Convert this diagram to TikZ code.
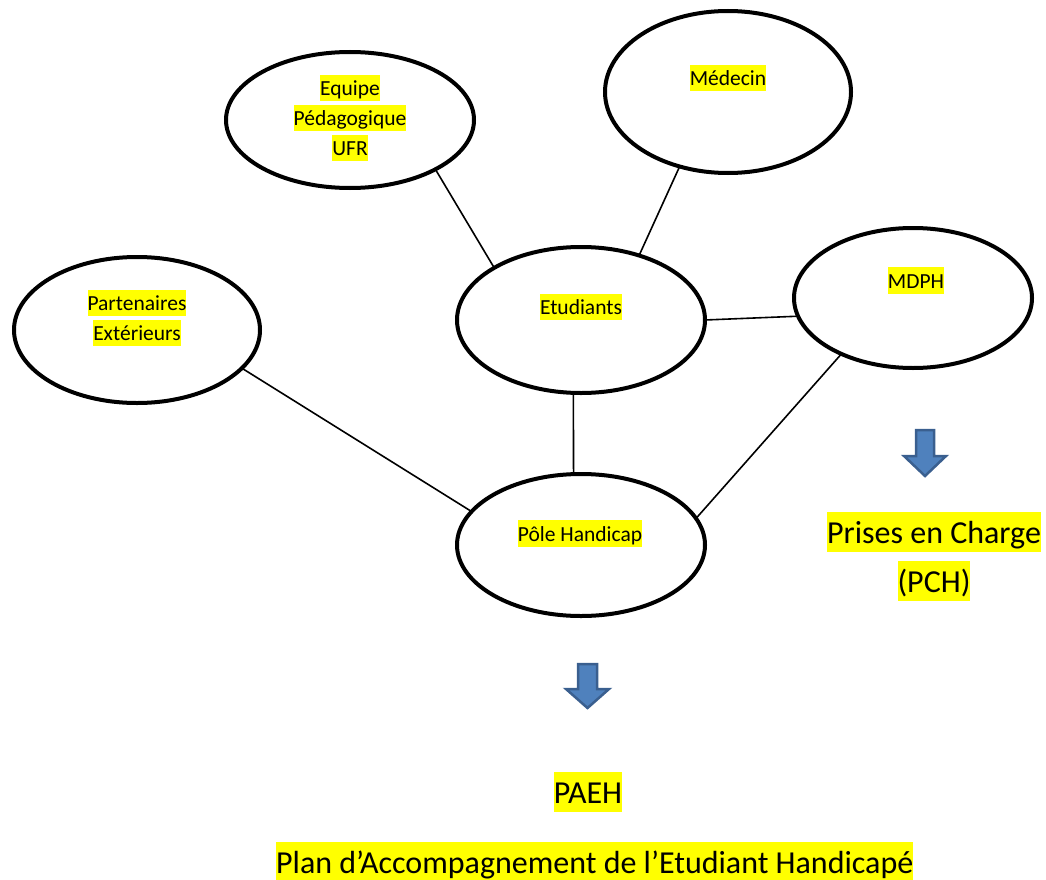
\documentclass[tikz,border=0pt]{standalone}
\usepackage{fontspec}
\setmainfont{Carlito}
\usetikzlibrary{shapes.geometric}
\definecolor{hly}{HTML}{FFFF00}
\definecolor{arrfill}{HTML}{4F81BD}
\definecolor{arredge}{HTML}{3A5F8F}
\newcommand\hlt[1]{{\setlength{\fboxsep}{0pt}\colorbox{hly}{\rule[-0.27em]{0pt}{1.25em}#1}}}
\begin{document}
\begin{tikzpicture}[x=1pt,y=-1pt,
  bubble/.style={draw, ellipse, line width=4pt, inner sep=0pt, outer sep=0pt},
  link/.style={line width=1.6pt},
  lbl/.style={inner sep=0pt, align=center, font=\fontsize{21.5}{30}\selectfont},
  biglbl/.style={inner sep=0pt, align=center, font=\fontsize{32}{49}\selectfont},
  blockarrow/.style={fill=arrfill, draw=arredge, line width=2.5pt, line join=miter}]
\useasboundingbox (0,0) rectangle (1046,880);

% ellipses
\node[bubble, minimum width=248pt, minimum height=136pt] (equipe) at (350,120) {};
\node[bubble, minimum width=246pt, minimum height=162pt] (medecin) at (728,92) {};
\node[bubble, minimum width=246pt, minimum height=146pt] (part) at (137,330) {};
\node[bubble, minimum width=248pt, minimum height=146pt] (etud) at (581,320) {};
\node[bubble, minimum width=238pt, minimum height=140pt] (mdph) at (913,298) {};
\node[bubble, minimum width=248pt, minimum height=142pt] (pole) at (581,545) {};

% connectors
\draw[link] (equipe.-30.5) -- (etud.149.8);
\draw[link] (medecin.-123.2) -- (etud.48.6);
\draw[link] (etud.0) -- (mdph.-171.1);
\draw[link] (part.-20.8) -- (pole.163);
\draw[link] (etud.-96.7) -- (pole.96.9);
\draw[link] (mdph.-142.2) -- (pole.13);

% labels
\node[lbl] (tEquipe) at (350,118) {\hlt{Equipe}\\\hlt{Pédagogique}\\\hlt{UFR}};
\node[lbl] (tMedecin) at (728,78) {\hlt{Médecin}};
\node[lbl] (tPart) at (137,318) {\hlt{Partenaires}\\\hlt{Extérieurs}};
\node[lbl] (tEtud) at (581,307) {\hlt{Etudiants}};
\node[lbl] (tMDPH) at (916,280.5) {\hlt{MDPH}};
\node[lbl] (tPole) at (580,533.5) {\hlt{Pôle Handicap}};

\node[biglbl] (tPCH) at (934,556.5) {\hlt{Prises en Charge}\\\hlt{(PCH)}};
\node[biglbl] (tPAEH) at (588,792) {\hlt{PAEH}};
\node[biglbl, anchor=west] (tPlan) at (276,862) {\hlt{Plan d’Accompagnement de l’Etudiant Handicapé}};

% block arrows
\path[blockarrow] (916,430) -- (934,430) -- (934,456) -- (946,456) -- (925,476) -- (904,456) -- (916,456) -- cycle;
\path[blockarrow] (578,664) -- (597,664) -- (597,689) -- (609,689) -- (587.5,708) -- (566,689) -- (578,689) -- cycle;
\end{tikzpicture}
\end{document}
